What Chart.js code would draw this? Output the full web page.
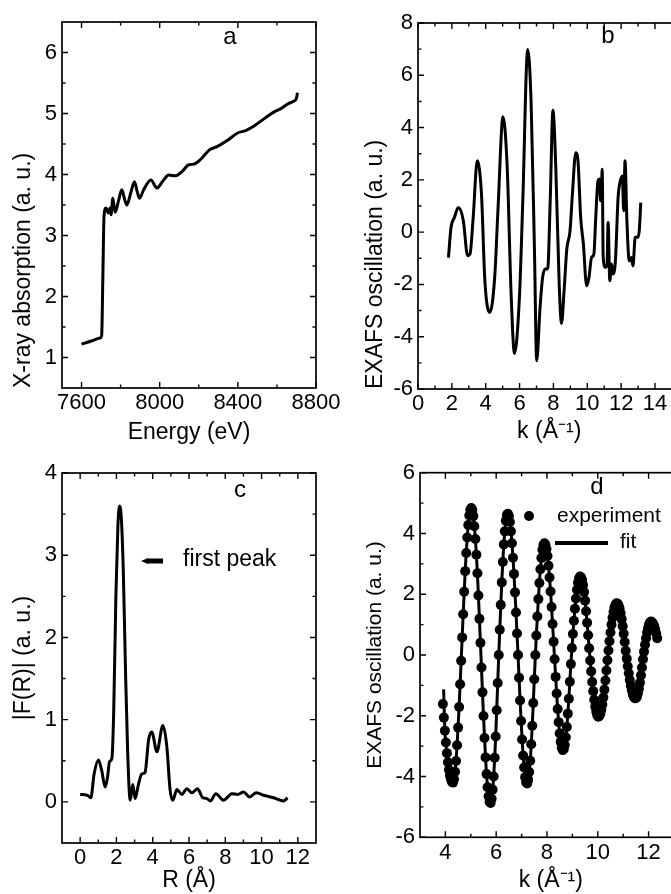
<!DOCTYPE html>
<html>
<head>
<meta charset="utf-8">
<script src="https://cdn.jsdelivr.net/npm/chart.js@4.4.0/dist/chart.umd.min.js"></script>
<style>
    html, body { margin: 0; padding: 0; background: #fff; width: 671px; height: 894px; overflow: hidden; position: relative; }
    canvas { position: absolute; }
</style>
</head>
<body>
<canvas id="chartA" width="345" height="450" style="left:0px;top:0px"></canvas>
<canvas id="chartB" width="360" height="450" style="left:340px;top:0px"></canvas>
<canvas id="chartC" width="345" height="444" style="left:0px;top:450px"></canvas>
<canvas id="chartD" width="360" height="444" style="left:340px;top:450px"></canvas>
<script>
// panel a: absorption edge
const energyA = [7600, 7650, 7694, 7703, 7709, 7715, 7725, 7737, 7746, 7751,
    7760, 7772, 7790, 7806, 7820, 7832, 7852, 7871, 7885, 7897,
    7918, 7955, 7986, 8020, 8046, 8081, 8115, 8149, 8175, 8210,
    8253, 8296, 8347, 8399, 8440, 8485, 8537, 8588, 8620, 8657,
    8685, 8700, 8703, 8705];
const absorptionA = [1.22, 1.27, 1.32, 1.36, 2.3, 3.31, 3.45, 3.37, 3.45, 3.34,
    3.61, 3.38, 3.58, 3.75, 3.6, 3.5, 3.7, 3.88, 3.72, 3.61,
    3.75, 3.91, 3.78, 3.91, 3.99, 3.98, 4.05, 4.16, 4.17, 4.25,
    4.4, 4.46, 4.56, 4.68, 4.72, 4.8, 4.92, 5.03, 5.08, 5.16,
    5.2, 5.25, 5.3, 5.34];

// panel b: raw EXAFS
const kB = [1.8, 1.95, 2.15, 2.38, 2.68, 2.93, 3.07, 3.26, 3.5, 3.75,
    3.95, 4.24, 4.53, 4.73, 5.02, 5.27, 5.5, 5.7, 6.0, 6.19,
    6.48, 6.68, 6.88, 7.01, 7.21, 7.36, 7.52, 7.66, 7.81, 7.97,
    8.14, 8.34, 8.48, 8.63, 8.79, 8.98, 9.12, 9.32, 9.45, 9.61,
    9.77, 9.96, 10.1, 10.25, 10.39, 10.49, 10.63, 10.72, 10.78, 10.84,
    10.88, 10.94, 11.07, 11.17, 11.23, 11.33, 11.43, 11.52, 11.66, 11.82,
    11.95, 12.07, 12.15, 12.23, 12.34, 12.48, 12.6, 12.7, 12.83, 12.97,
    13.07, 13.16];
const chiB = [-0.97, 0.18, 0.56, 0.94, 0.43, -0.9, -0.84, 0.56, 2.73, 1.45,
    -1.86, -3.07, -1.73, 0.94, 4.41, 2.47, -2.37, -4.64, -2.37, 1.2,
    6.99, 5.0, -0.71, -4.92, -2.88, -1.73, -1.41, -1.41, 1.2, 4.66,
    2.47, -1.99, -3.49, -2.24, -0.65, 0.05, 1.45, 3.04, 2.73, 0.56,
    -0.46, -2.05, -1.73, -0.97, -0.84, 0.43, 1.96, 2.03, 1.2, 1.58,
    2.41, -0.97, -1.35, -1.22, 0.37, -1.86, -1.22, -1.6, -1.1, 1.32,
    1.96, 2.15, 0.82, 2.73, 0.43, -1.1, -0.97, -1.29, -0.2, -0.2,
    0.05, 1.13];

// panel c: Fourier transform
const rC = [0, 0.4, 0.59, 0.77, 1.01, 1.19, 1.38, 1.51, 1.62, 1.75,
    1.85, 1.97, 2.08, 2.17, 2.27, 2.38, 2.5, 2.62, 2.76, 2.9,
    3.03, 3.22, 3.4, 3.58, 3.77, 3.95, 4.23, 4.56, 4.78, 4.96,
    5.11, 5.33, 5.61, 5.88, 6.16, 6.47, 6.76, 6.99, 7.17, 7.48,
    7.9, 8.36, 8.68, 9.01, 9.34, 9.71, 10.11, 10.66, 11.21, 11.43];
const ftC = [0.09, 0.08, 0.05, 0.34, 0.51, 0.38, 0.18, 0.3, 0.49, 0.53,
    1.1, 2.5, 3.35, 3.6, 3.45, 2.8, 1.6, 0.6, 0.02, 0.21,
    0.04, 0.22, 0.34, 0.36, 0.75, 0.85, 0.61, 0.93, 0.67, 0.14,
    0.02, 0.15, 0.09, 0.16, 0.11, 0.16, 0.05, 0.04, 0.01, 0.1,
    0.02, 0.1, 0.09, 0.12, 0.06, 0.11, 0.08, 0.05, 0.01, 0.05];

// panel d: experiment points
const kExpD = [3.90, 3.94, 3.98, 4.02, 4.06, 4.10, 4.14, 4.18, 4.22, 4.26,
    4.30, 4.34, 4.38, 4.42, 4.46, 4.50, 4.54, 4.58, 4.62, 4.66,
    4.70, 4.74, 4.78, 4.82, 4.86, 4.90, 4.94, 4.98, 5.02, 5.06,
    5.10, 5.14, 5.18, 5.22, 5.26, 5.30, 5.34, 5.38, 5.42, 5.46,
    5.50, 5.54, 5.58, 5.62, 5.66, 5.70, 5.74, 5.78, 5.82, 5.86,
    5.90, 5.94, 5.98, 6.02, 6.06, 6.10, 6.14, 6.18, 6.22, 6.26,
    6.30, 6.34, 6.38, 6.42, 6.46, 6.50, 6.54, 6.58, 6.62, 6.66,
    6.70, 6.74, 6.78, 6.82, 6.86, 6.90, 6.94, 6.98, 7.02, 7.06,
    7.10, 7.14, 7.18, 7.22, 7.26, 7.30, 7.34, 7.38, 7.42, 7.46,
    7.50, 7.54, 7.58, 7.62, 7.66, 7.70, 7.74, 7.78, 7.82, 7.86,
    7.90, 7.94, 7.98, 8.02, 8.06, 8.10, 8.14, 8.18, 8.22, 8.26,
    8.30, 8.34, 8.38, 8.42, 8.46, 8.50, 8.54, 8.58, 8.62, 8.66,
    8.70, 8.74, 8.78, 8.82, 8.86, 8.90, 8.94, 8.98, 9.02, 9.06,
    9.10, 9.14, 9.18, 9.22, 9.26, 9.30, 9.34, 9.38, 9.42, 9.46,
    9.50, 9.54, 9.58, 9.62, 9.66, 9.70, 9.74, 9.78, 9.82, 9.86,
    9.90, 9.94, 9.98, 10.02, 10.06, 10.10, 10.14, 10.18, 10.22, 10.26,
    10.30, 10.34, 10.38, 10.42, 10.46, 10.50, 10.54, 10.58, 10.62, 10.66,
    10.70, 10.74, 10.78, 10.82, 10.86, 10.90, 10.94, 10.98, 11.02, 11.06,
    11.10, 11.14, 11.18, 11.22, 11.26, 11.30, 11.34, 11.38, 11.42, 11.46,
    11.50, 11.54, 11.58, 11.62, 11.66, 11.70, 11.74, 11.78, 11.82, 11.86,
    11.90, 11.94, 11.98, 12.02, 12.06, 12.10, 12.14, 12.18, 12.22, 12.26,
    12.30, 12.34];
const expD = [-1.61, -2.06, -2.49, -2.88, -3.23, -3.53, -3.78, -3.97, -4.10, -4.18,
    -4.20, -4.09, -3.84, -3.49, -2.97, -2.39, -1.71, -0.96, -0.19, 0.58,
    1.34, 2.08, 2.76, 3.36, 3.87, 4.28, 4.59, 4.78, 4.84, 4.77,
    4.57, 4.24, 3.82, 3.30, 2.69, 1.96, 1.19, 0.40, -0.41, -1.23,
    -2.01, -2.73, -3.37, -3.92, -4.35, -4.65, -4.83, -4.87, -4.73, -4.43,
    -4.00, -3.38, -2.68, -1.82, -0.92, 0.00, 0.83, 1.65, 2.39, 3.06,
    3.64, 4.07, 4.42, 4.61, 4.65, 4.57, 4.38, 4.07, 3.68, 3.20,
    2.67, 2.06, 1.40, 0.71, 0.00, -0.75, -1.50, -2.17, -2.78, -3.31,
    -3.70, -4.02, -4.19, -4.23, -4.11, -3.85, -3.48, -2.94, -2.33, -1.58,
    -0.80, 0.00, 0.64, 1.27, 1.84, 2.37, 2.82, 3.19, 3.46, 3.62,
    3.68, 3.63, 3.49, 3.26, 2.94, 2.55, 2.09, 1.58, 1.02, 0.44,
    -0.14, -0.72, -1.27, -1.78, -2.21, -2.58, -2.86, -3.05, -3.13, -3.10,
    -2.96, -2.71, -2.37, -1.93, -1.44, -0.88, -0.30, 0.23, 0.69, 1.13,
    1.52, 1.86, 2.15, 2.38, 2.52, 2.58, 2.56, 2.47, 2.30, 2.07,
    1.79, 1.44, 1.06, 0.65, 0.22, -0.18, -0.54, -0.89, -1.19, -1.47,
    -1.70, -1.87, -1.98, -2.03, -2.01, -1.94, -1.81, -1.63, -1.40, -1.14,
    -0.84, -0.51, -0.17, 0.15, 0.45, 0.74, 1.00, 1.23, 1.42, 1.57,
    1.66, 1.70, 1.69, 1.63, 1.52, 1.37, 1.18, 0.95, 0.70, 0.43,
    0.14, -0.12, -0.37, -0.60, -0.82, -1.01, -1.17, -1.30, -1.38, -1.42,
    -1.42, -1.37, -1.26, -1.11, -0.91, -0.67, -0.41, -0.14, 0.11, 0.34,
    0.55, 0.74, 0.89, 1.01, 1.08, 1.10, 1.08, 1.03, 0.95, 0.84,
    0.71, 0.55];

// panel d: fit curve
const kFitD = [3.93, 3.98, 4.06, 4.14, 4.22, 4.30, 4.38, 4.46, 4.54, 4.62,
    4.70, 4.78, 4.86, 4.94, 5.02, 5.10, 5.18, 5.26, 5.34, 5.42,
    5.50, 5.58, 5.66, 5.74, 5.82, 5.90, 5.98, 6.06, 6.14, 6.22,
    6.30, 6.38, 6.46, 6.54, 6.62, 6.70, 6.78, 6.86, 6.94, 7.02,
    7.10, 7.18, 7.26, 7.34, 7.42, 7.50, 7.58, 7.66, 7.74, 7.82,
    7.90, 7.98, 8.06, 8.14, 8.22, 8.30, 8.38, 8.46, 8.54, 8.62,
    8.70, 8.78, 8.86, 8.94, 9.02, 9.10, 9.18, 9.26, 9.34, 9.42,
    9.50, 9.58, 9.66, 9.74, 9.82, 9.90, 9.98, 10.06, 10.14, 10.22,
    10.30, 10.38, 10.46, 10.54, 10.62, 10.70, 10.78, 10.86, 10.94, 11.02,
    11.10, 11.18, 11.26, 11.34, 11.42, 11.50, 11.58, 11.66, 11.74, 11.82,
    11.90, 11.98, 12.06, 12.14, 12.22, 12.30, 12.34];
const fitD = [-1.13, -2.49, -3.23, -3.78, -4.10, -4.20, -3.84, -2.97, -1.71, -0.19,
    1.34, 2.76, 3.87, 4.59, 4.84, 4.57, 3.82, 2.69, 1.19, -0.41,
    -2.01, -3.37, -4.35, -4.83, -4.73, -4.00, -2.68, -0.92, 0.83, 2.39,
    3.64, 4.42, 4.65, 4.38, 3.68, 2.67, 1.40, 0.00, -1.50, -2.78,
    -3.70, -4.19, -4.11, -3.48, -2.33, -0.80, 0.64, 1.84, 2.82, 3.46,
    3.68, 3.49, 2.94, 2.09, 1.02, -0.14, -1.27, -2.21, -2.86, -3.13,
    -2.96, -2.37, -1.44, -0.30, 0.69, 1.52, 2.15, 2.52, 2.56, 2.30,
    1.79, 1.06, 0.22, -0.54, -1.19, -1.70, -1.98, -2.01, -1.81, -1.40,
    -0.84, -0.17, 0.45, 1.00, 1.42, 1.66, 1.69, 1.52, 1.18, 0.70,
    0.14, -0.37, -0.82, -1.17, -1.38, -1.42, -1.26, -0.91, -0.41, 0.11,
    0.55, 0.89, 1.08, 1.08, 0.95, 0.71, 0.55];

// tick labels (major) and unlabeled minor ticks
const xMajorA = [7600, 8000, 8400, 8800];
const xMinorA = [7800, 8200, 8600];
const yMajorA = [1, 2, 3, 4, 5, 6];
const yMinorA = [1.5, 2.5, 3.5, 4.5, 5.5];
const xMajorB = [0, 2, 4, 6, 8, 10, 12, 14];
const xMinorB = [1, 3, 5, 7, 9, 11, 13, 15];
const yMajorB = [-6, -4, -2, 0, 2, 4, 6, 8];
const yMinorB = [-5, -3, -1, 1, 3, 5, 7];
const xMajorC = [0, 2, 4, 6, 8, 10, 12];
const xMinorC = [1, 3, 5, 7, 9, 11];
const yMajorC = [0, 1, 2, 3, 4];
const yMinorC = [0.5, 1.5, 2.5, 3.5];
const xMajorD = [4, 6, 8, 10, 12];
const xMinorD = [5, 7, 9, 11, 13];
const yMajorD = [-6, -4, -2, 0, 2, 4, 6];
const yMinorD = [-5, -3, -1, 1, 3, 5];

Chart.defaults.font.family = "'Liberation Sans', Arial, Helvetica, sans-serif";
Chart.defaults.color = '#000';
Chart.defaults.animation = false;

function toPoints(xs, ys) {
    return xs.map((x, i) => ({ x: x, y: ys[i] }));
}

function makeAxis(c) {
    const all = c.major.concat(c.minor).sort((a, b) => a - b);
    const horizontal = c.position === 'bottom';
    return {
        type: 'linear',
        position: c.position,
        min: c.min,
        max: c.max,
        grid: { display: false, drawTicks: false },
        border: { display: false },
        afterBuildTicks: s => { s.ticks = all.map(v => ({ value: v })); },
        afterFit: s => {
            if (horizontal) s.height = c.size; else s.width = c.size;
            s.paddingLeft = 0; s.paddingRight = 0; s.paddingTop = 0; s.paddingBottom = 0;
        },
        ticks: {
            autoSkip: false,
            maxRotation: 0,
            padding: horizontal ? 2 : 5,
            font: { size: 22 },
            callback: v => c.major.includes(v) ? String(v) : ''
        },
        title: {
            display: true,
            text: c.title,
            align: c.align || 'center',
            font: { size: c.titleSize || 23, lineHeight: 1.2 },
            padding: c.titlePad
        }
    };
}

// box with inward ticks on all four sides, plus panel letters and legends
function framePlugin(xMajor, yMajor, extras) {
    return {
        id: 'frame',
        afterDraw(chart) {
            const { ctx, chartArea: a, scales } = chart;
            ctx.save();
            ctx.strokeStyle = '#000';
            ctx.lineWidth = 1.7;
            ctx.strokeRect(a.left, a.top, a.right - a.left, a.bottom - a.top);
            ctx.lineWidth = 1.4;
            ctx.beginPath();
            scales.x.ticks.forEach(t => {
                const px = scales.x.getPixelForValue(t.value);
                const len = xMajor.includes(t.value) ? 6 : 3.5;
                ctx.moveTo(px, a.bottom); ctx.lineTo(px, a.bottom - len);
                ctx.moveTo(px, a.top); ctx.lineTo(px, a.top + len);
            });
            scales.y.ticks.forEach(t => {
                const py = scales.y.getPixelForValue(t.value);
                const len = yMajor.includes(t.value) ? 6 : 3.5;
                ctx.moveTo(a.left, py); ctx.lineTo(a.left + len, py);
                ctx.moveTo(a.right, py); ctx.lineTo(a.right - len, py);
            });
            ctx.stroke();

            ctx.fillStyle = '#000';
            ctx.textBaseline = 'middle';
            extras.forEach(e => {
                if (e.type === 'text') {
                    ctx.font = e.size + "px 'Liberation Sans', Arial, sans-serif";
                    ctx.textAlign = e.align || 'left';
                    ctx.fillText(e.text, e.x, e.y);
                } else if (e.type === 'line') {
                    ctx.lineWidth = e.width;
                    ctx.beginPath();
                    ctx.moveTo(e.x1, e.y); ctx.lineTo(e.x2, e.y);
                    ctx.stroke();
                } else if (e.type === 'dot') {
                    ctx.beginPath();
                    ctx.arc(e.x, e.y, e.r, 0, Math.PI * 2);
                    ctx.fill();
                } else if (e.type === 'arrow') {
                    ctx.beginPath();
                    ctx.moveTo(e.x, e.y);
                    ctx.lineTo(e.x + 7, e.y - 3);
                    ctx.lineTo(e.x + 7, e.y + 3);
                    ctx.closePath();
                    ctx.fill();
                }
            });
            ctx.restore();
        }
    };
}

function lineSet(xs, ys) {
    return {
        data: toPoints(xs, ys),
        borderColor: '#000',
        borderWidth: 3,
        pointRadius: 0,
        cubicInterpolationMode: 'monotone',
        fill: false
    };
}

function baseOptions(xAxis, yAxis, pad) {
    return {
        responsive: false,
        animation: false,
        layout: { padding: pad },
        plugins: { legend: { display: false }, tooltip: { enabled: false } },
        scales: { x: xAxis, y: yAxis }
    };
}

// a
new Chart(document.getElementById('chartA'), {
    type: 'line',
    data: { datasets: [lineSet(energyA, absorptionA)] },
    options: baseOptions(
        makeAxis({ position: 'bottom', min: 7500, max: 8800, major: xMajorA, minor: xMinorA, size: 62,
            title: 'Energy (eV)', titlePad: { top: 0, bottom: 4 } }),
        makeAxis({ position: 'left', min: 0.5, max: 6.5, major: yMajorA, minor: yMinorA, size: 62,
            title: 'X-ray absorption (a. u.)', align: 'start', titlePad: { top: 10, bottom: 0 } }),
        { top: 22, right: 29, left: 0, bottom: 0 }
    ),
    plugins: [framePlugin(xMajorA, yMajorA, [
        { type: 'text', text: 'a', x: 230, y: 37, size: 24, align: 'center' }
    ])]
});

// b (right edge of the box falls just outside the page)
new Chart(document.getElementById('chartB'), {
    type: 'line',
    data: { datasets: [lineSet(kB, chiB)] },
    options: baseOptions(
        makeAxis({ position: 'bottom', min: 0, max: 15.5, major: xMajorB, minor: xMinorB, size: 61,
            title: 'k (Å⁻¹)', titlePad: { top: 0, bottom: 5 } }),
        makeAxis({ position: 'left', min: -6, max: 8, major: yMajorB, minor: yMinorB, size: 78,
            title: 'EXAFS oscillation (a. u.)', align: 'start', titlePad: { top: 22, bottom: 0 } }),
        { top: 23, right: 19.6, left: 0, bottom: 0 }
    ),
    plugins: [framePlugin(xMajorB, yMajorB, [
        { type: 'text', text: 'b', x: 268, y: 36, size: 24, align: 'center' }
    ])]
});

// c
new Chart(document.getElementById('chartC'), {
    type: 'line',
    data: { datasets: [lineSet(rC, ftC)] },
    options: baseOptions(
        makeAxis({ position: 'bottom', min: -1, max: 13, major: xMajorC, minor: xMinorC, size: 51,
            title: 'R (Å)', titlePad: { top: 0, bottom: 0 } }),
        makeAxis({ position: 'left', min: -0.5, max: 4, major: yMajorC, minor: yMinorC, size: 62,
            title: '|F(R)| (a. u.)', titlePad: { top: 10, bottom: 0 } }),
        { top: 23, right: 29, left: 0, bottom: 0 }
    ),
    plugins: [framePlugin(xMajorC, yMajorC, [
        { type: 'text', text: 'c', x: 240, y: 40, size: 24, align: 'center' },
        { type: 'line', x1: 147, x2: 163, y: 111, width: 5 },
        { type: 'arrow', x: 141, y: 111 },
        { type: 'text', text: 'first peak', x: 183, y: 110, size: 23 }
    ])]
});

// d
new Chart(document.getElementById('chartD'), {
    type: 'line',
    data: {
        datasets: [
            {
                data: toPoints(kExpD, expD),
                showLine: false,
                pointRadius: 5,
                pointBackgroundColor: '#000',
                pointBorderColor: '#000',
                pointBorderWidth: 0
            },
            lineSet(kFitD, fitD)
        ]
    },
    options: baseOptions(
        makeAxis({ position: 'bottom', min: 3, max: 13.3, major: xMajorD, minor: xMinorD, size: 56.7,
            title: 'k (Å⁻¹)', titlePad: { top: 0, bottom: 0 } }),
        makeAxis({ position: 'left', min: -6, max: 6, major: yMajorD, minor: yMinorD, size: 80,
            title: 'EXAFS oscillation (a. u.)', titleSize: 21, titlePad: { top: 23, bottom: 0 } }),
        { top: 22.7, right: 18.4, left: 0, bottom: 0 }
    ),
    plugins: [framePlugin(xMajorD, yMajorD, [
        { type: 'text', text: 'd', x: 257, y: 37, size: 24, align: 'center' },
        { type: 'dot', x: 189, y: 66, r: 5 },
        { type: 'text', text: 'experiment', x: 217, y: 66, size: 21 },
        { type: 'line', x1: 215, x2: 268, y: 93, width: 4 },
        { type: 'text', text: 'fit', x: 280, y: 92, size: 21 }
    ])]
});
</script>
</body>
</html>
